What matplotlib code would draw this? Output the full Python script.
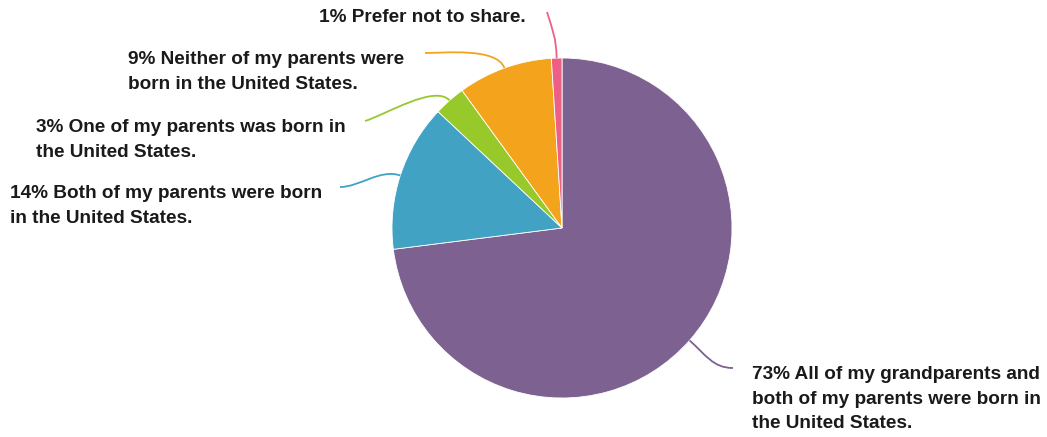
import numpy as np
import matplotlib.pyplot as plt
from matplotlib.path import Path
from matplotlib.patches import PathPatch

plt.rcParams['font.family'] = ['Liberation Sans', 'DejaVu Sans']

# パイチャートのデータ（12時の位置から時計回り）
labels = [
    "73% All of my grandparents and\nboth of my parents were born in\nthe United States.",
    "14% Both of my parents were born\nin the United States.",
    "3% One of my parents was born in\nthe United States.",
    "9% Neither of my parents were\nborn in the United States.",
    "1% Prefer not to share.",
]
values = [73, 14, 3, 9, 1]
colors = ['#7D6190', '#41A2C3', '#97C92B', '#F4A41C', '#EE5F86']

W, H = 1047, 437
cx, cy, r = 562, H - 228, 170

# ラベルの位置と引き出し線の終点（ピクセル座標、y は上から）
text_pos = [(752, 399, 'left'), (10, 206, 'left'), (36, 140, 'left'),
            (128, 72, 'left'), (526, 18, 'right')]
line_end = [(733, 368), (340, 187), (365, 121), (425, 53), (547, 12)]
end_dir = [(-1, 0), (1, 0), (1, -0.3), (1, 0), (0.3, 1)]

fig = plt.figure(figsize=(W / 100, H / 100), dpi=100)
ax = fig.add_axes([0, 0, 1, 1])

ax.pie(values, colors=colors, startangle=90, counterclock=False,
       center=(cx, cy), radius=r, frame=True,
       wedgeprops=dict(edgecolor='white', linewidth=0.6))
ax.set_xlim(0, W)
ax.set_ylim(0, H)
ax.set_aspect('equal')
ax.axis('off')

# 引き出し線（各扇形の中央角から）
cum = np.cumsum([0] + values)
for i, v in enumerate(values):
    mid = (cum[i] + v / 2) / 100 * 2 * np.pi
    dx, dy = np.sin(mid), np.cos(mid)
    p0 = (cx + r * dx, cy + r * dy)
    p1 = (cx + (r + 22) * dx, cy + (r + 22) * dy)
    ex, ey = line_end[i][0], H - line_end[i][1]
    ddx, ddy = end_dir[i]
    p2 = (ex + 20 * ddx, ey - 20 * ddy)
    path = Path([p0, p1, p2, (ex, ey)],
                [Path.MOVETO, Path.CURVE4, Path.CURVE4, Path.CURVE4])
    ax.add_patch(PathPatch(path, fill=False, edgecolor=colors[i], lw=1.3))

    tx, ty, ha = text_pos[i]
    ax.text(tx, H - ty, labels[i], ha=ha, va='center', fontsize=13.7,
            fontweight='bold', color='#1a1a1a', linespacing=1.55)

plt.savefig('out.png', dpi=100)
